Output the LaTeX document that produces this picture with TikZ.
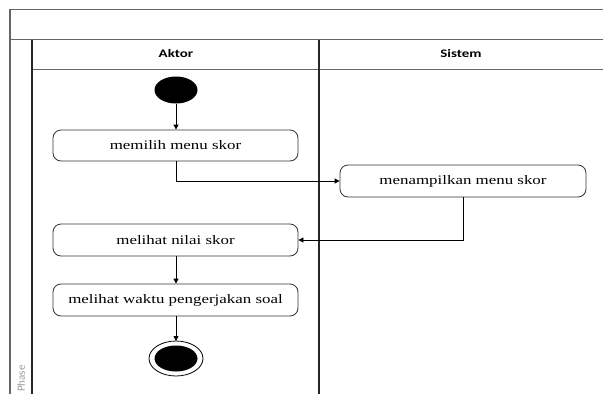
\documentclass[tikz,border=0pt]{standalone}
\usepackage{fontspec}
\setmainfont{Liberation Serif}[FakeStretch=1.3]
\newfontfamily\hdrfont{Carlito}[FakeStretch=1.3]
\newfontfamily\phasefont{Carlito}
\usetikzlibrary{arrows.meta}
\tikzset{
  lane/.style={line width=1.2pt, draw=black!85},
  frame/.style={line width=1.2pt, draw=black!60},
  act/.style={draw=black!80, line width=0.8pt, rounded corners=8pt, fill=white,
              minimum width=245pt, minimum height=31pt, inner sep=0pt,
              font=\fontsize{13}{15}\selectfont},
  flow/.style={draw=black, line width=0.8pt, -{Triangle[width=5pt,length=5pt]}},
  hdr/.style={font=\hdrfont\bfseries\fontsize{11.5}{13}\selectfont},
}
\begin{document}
\begin{tikzpicture}[x=1pt,y=-1pt]
  \useasboundingbox (0,0) rectangle (603,394);
  \clip (0,0) rectangle (603,394);

  % swimlane frame
  \draw[frame] (10,394) -- (10,9.5) -- (603,9.5);
  \draw[frame] (10,39.5) -- (603,39.5);
  \draw[frame] (32,69.5) -- (603,69.5);
  \draw[lane] (32,39.5) -- (32,394);
  \draw[lane] (319,39.5) -- (319,394);

  % lane titles
  \node[hdr] (aktor) at (176,54) {Aktor};
  \node[hdr] (sistem) at (461,54) {Sistem};
  \node[rotate=90, anchor=west, text=black!40, inner sep=0pt,
        font=\phasefont\fontsize{11}{12}\selectfont] (phase) at (21,392) {Phase};

  % activities
  \fill (176,90) ellipse [x radius=21.5pt, y radius=13.5pt];
  \coordinate (start) at (176,103.5);
  \node[act] (a1) at (175.5,145.5) {memilih menu skor};
  \node[act, minimum width=246pt, minimum height=32pt] (a2) at (463,181) {menampilkan menu skor};
  \node[act, minimum height=32pt] (a3) at (175.5,240) {melihat nilai skor};
  \node[act, minimum height=32pt] (a4) at (175.5,300) {melihat waktu pengerjakan soal};
  \draw[line width=0.8pt] (176,358.5) ellipse [x radius=27pt, y radius=17.5pt];
  \fill (176,358.5) ellipse [x radius=21.5pt, y radius=13pt];
  \coordinate (endtop) at (176,341);

  % control flow
  \draw[flow] (start) -- (start |- a1.north);
  \draw[flow] (a1.south -| start) |- (a2.west);
  \draw[flow] (a2.south) |- (a3.east);
  \draw[flow] (a3.south -| start) -- (a4.north -| start);
  \draw[flow] (a4.south -| start) -- (endtop);
\end{tikzpicture}
\end{document}
